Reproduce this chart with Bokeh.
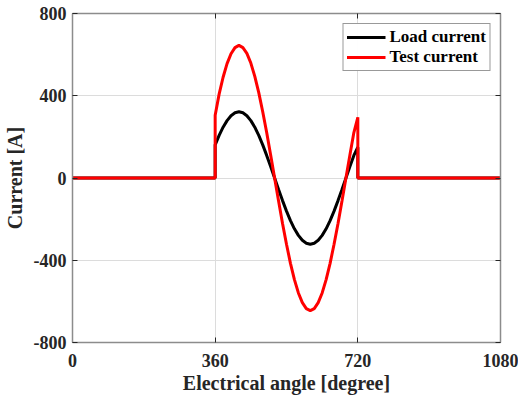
from bokeh.plotting import figure
from bokeh.models import Range1d, LinearAxis, FixedTicker, Legend, LegendItem
from bokeh.embed import file_html
from bokeh.resources import INLINE

# Electrical angle [degree]
angle = [0, 360, 360, 370, 380, 390, 400, 410, 420, 430, 440, 450, 460, 470, 480,
         490, 500, 510, 520, 530, 540, 550, 560, 570, 580, 590, 600, 610, 620,
         630, 640, 650, 660, 670, 680, 690, 700, 710, 720, 720, 1080]
# Load current [A]
load_current = [0, 0, 161, 207, 247, 279, 303, 317, 322, 317, 303, 279, 247, 207, 161,
                110, 56, 0, -56, -110, -161, -207, -247, -279, -303, -317, -322, -317, -303,
                -279, -247, -207, -161, -110, -56, 0, 56, 110, 150, 0, 0]
# Test current [A]
test_current = [0, 0, 305, 408, 490, 556, 604, 634, 645, 634, 606, 559, 494, 415, 322,
                221, 112, 0, -112, -221, -322, -415, -494, -559, -606, -635, -645, -635, -606,
                -559, -494, -415, -322, -221, -112, 0, 112, 221, 295, 0, 0]

x_ticks = [0, 360, 720, 1080]
y_ticks = [-800, -400, 0, 400, 800]
y_tick_labels = ["-800", "-400", "0", "400", "800"]
series_labels = ["Load current", "Test current"]

FONT = "Liberation Serif"
AXIS_GRAY = "#8c8c8c"
TEXT_COL = "#262626"

p = figure(width=518, height=396, output_backend="svg", toolbar_location=None,
           x_range=Range1d(0, 1080), y_range=Range1d(-800, 800),
           min_border_left=10, min_border_right=18, min_border_top=13, min_border_bottom=4)
p.outline_line_color = None
p.background_fill_color = "white"
p.border_fill_color = "white"

for ax in (p.xaxis[0], p.yaxis[0]):
    ax.major_label_text_font = FONT
    ax.major_label_text_font_style = "bold"
    ax.major_label_text_font_size = "18px"
    ax.major_label_text_color = TEXT_COL
    ax.axis_label_text_font = FONT
    ax.axis_label_text_font_style = "bold"
    ax.axis_label_text_font_size = "20px"
    ax.axis_label_text_color = TEXT_COL
    ax.axis_line_color = AXIS_GRAY
    ax.axis_line_width = 1.5
    ax.major_tick_in = 5
    ax.major_tick_out = 0
    ax.major_tick_line_color = TEXT_COL
    ax.minor_tick_line_color = None

p.xaxis[0].ticker = FixedTicker(ticks=x_ticks)
p.yaxis[0].ticker = FixedTicker(ticks=y_ticks)
p.yaxis[0].major_label_overrides = dict(zip(y_ticks, y_tick_labels))
p.xaxis[0].axis_label = "Electrical angle [degree]"
p.yaxis[0].axis_label = "Current [A]"
p.xaxis[0].major_label_standoff = 11
p.yaxis[0].major_label_standoff = 6
p.xaxis[0].axis_label_standoff = 2
p.yaxis[0].axis_label_standoff = 5

# Box axes (top / right) without labels
top = LinearAxis(ticker=FixedTicker(ticks=x_ticks),
                 major_label_overrides={t: "" for t in x_ticks})
right = LinearAxis(ticker=FixedTicker(ticks=y_ticks),
                   major_label_overrides={t: "" for t in y_ticks})
for ax in (top, right):
    ax.axis_line_color = AXIS_GRAY
    ax.axis_line_width = 1.5
    ax.major_tick_in = 5
    ax.major_tick_out = 0
    ax.major_tick_line_color = TEXT_COL
    ax.minor_tick_line_color = None
    ax.major_label_text_font_size = "1px"
    ax.major_label_standoff = 0
p.add_layout(top, "above")
p.add_layout(right, "right")

p.xgrid.ticker = FixedTicker(ticks=x_ticks)
p.ygrid.ticker = FixedTicker(ticks=y_ticks)
p.xgrid.grid_line_color = "#dcdcdc"
p.ygrid.grid_line_color = "#dcdcdc"

r1 = p.line(angle, load_current, line_color="black", line_width=3)
r2 = p.line(angle, test_current, line_color="#ff0000", line_width=3)

legend = Legend(items=[LegendItem(label=series_labels[0], renderers=[r1]),
                       LegendItem(label=series_labels[1], renderers=[r2])],
                location="top_right")
legend.label_text_font = FONT
legend.label_text_font_style = "bold"
legend.label_text_font_size = "17px"
legend.label_text_color = "black"
legend.border_line_color = "#333333"
legend.border_line_width = 1
legend.glyph_width = 39
legend.glyph_height = 20
legend.label_height = 20
legend.spacing = 0
legend.padding = 3
legend.margin = 10
legend.label_standoff = 4
p.add_layout(legend)

open("out.html", "w").write(file_html(p, INLINE))
